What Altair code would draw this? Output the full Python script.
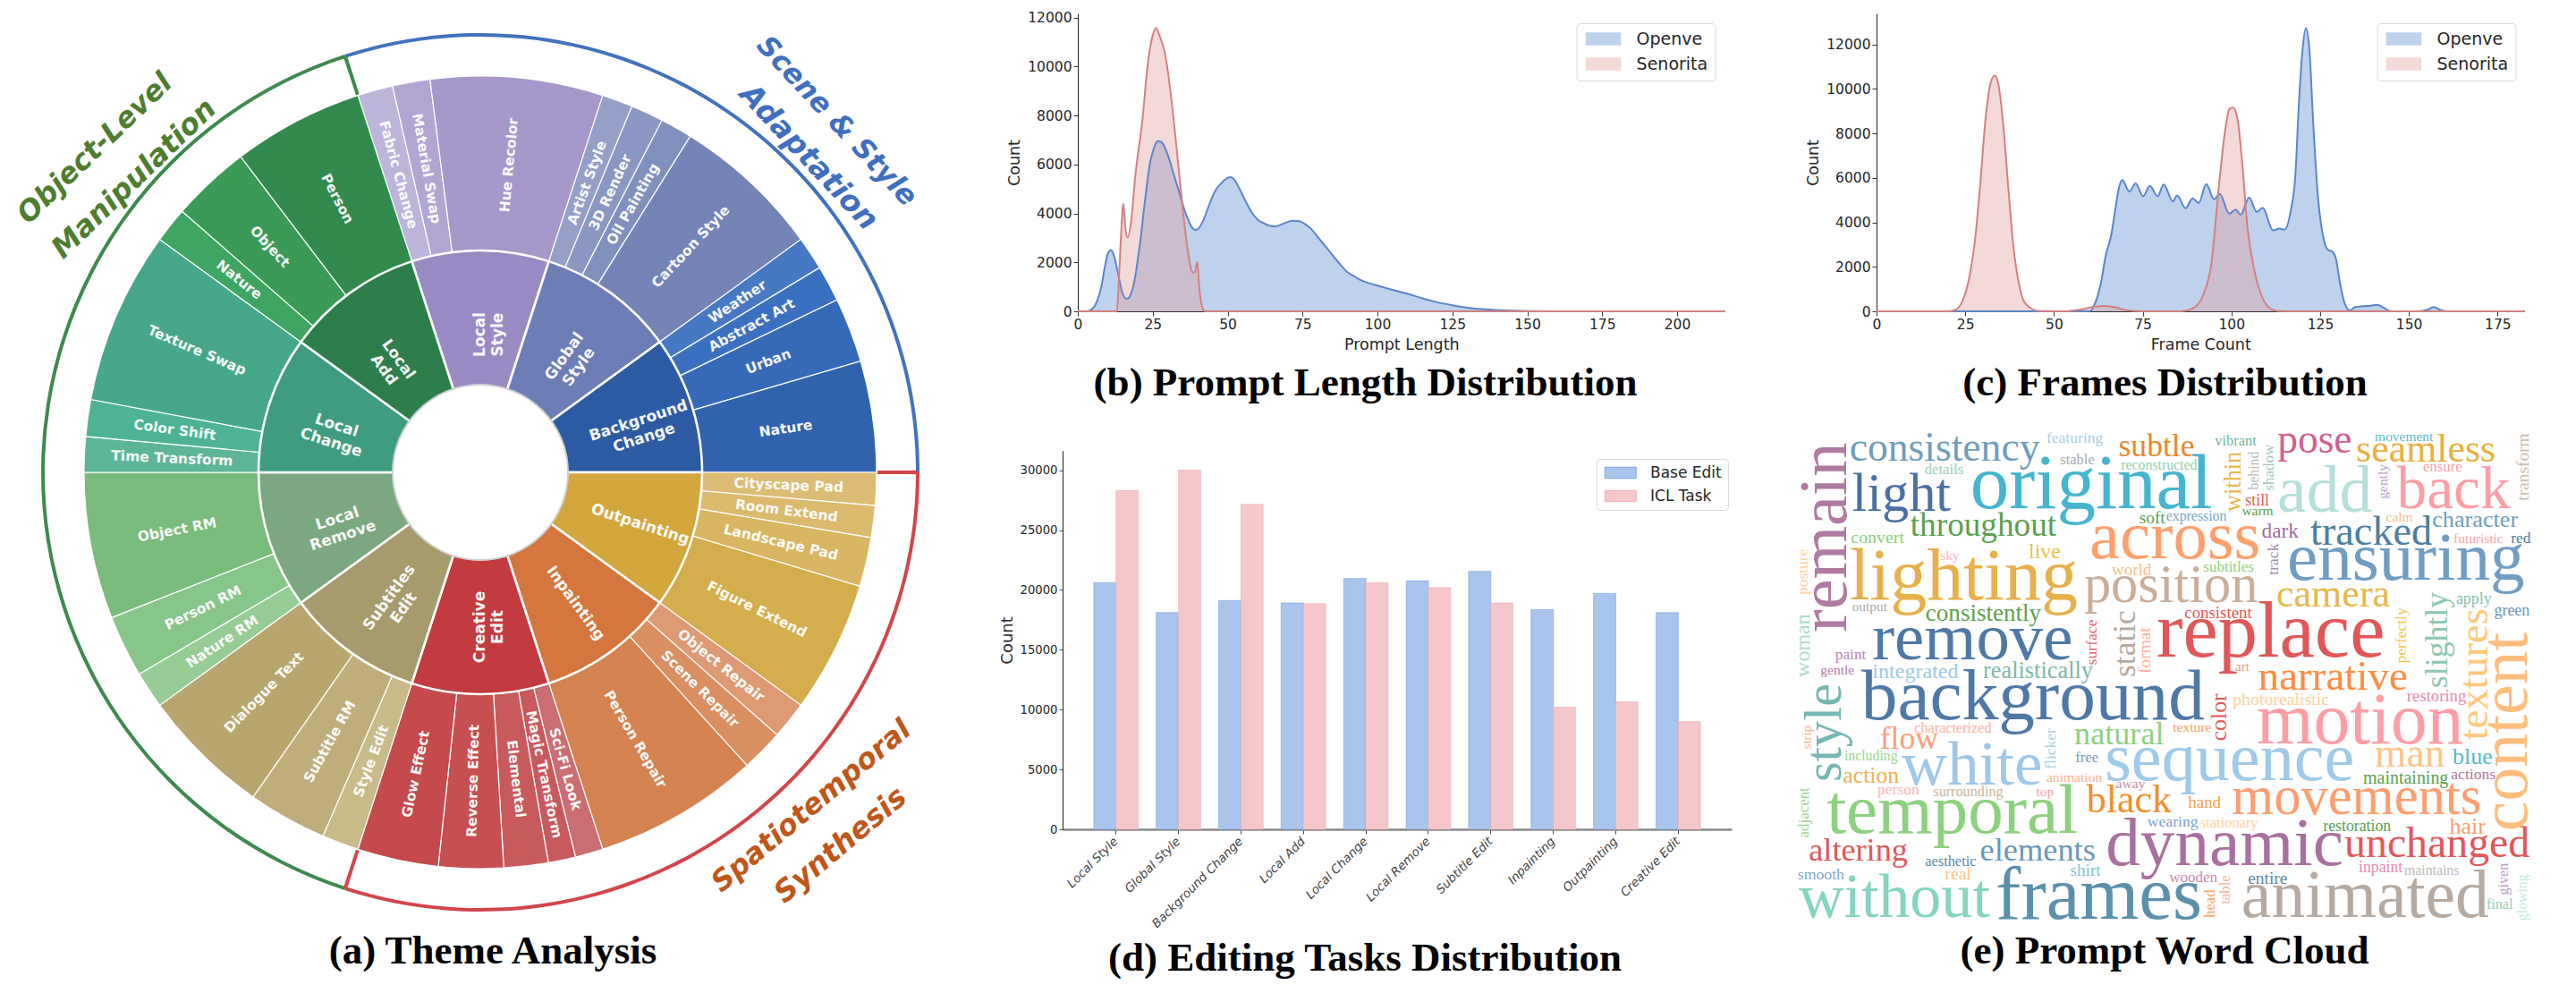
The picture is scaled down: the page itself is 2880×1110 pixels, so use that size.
import altair as alt
import pandas as pd

# ---------- (a) sunburst data ----------
inner_labels = ["Local\nStyle", "Global\nStyle", "Background\nChange", "Outpainting", "Inpainting",
                "Creative\nEdit", "Subtitles\nEdit", "Local\nRemove", "Local\nChange", "Local\nAdd"]
inner_colors = ["#9a8ac3", "#6d7db5", "#2c5ba3", "#d3a73d", "#d4763d",
                "#c23b3e", "#a79a6c", "#7ba880", "#3f9c80", "#2e7e4b"]
inner_span = [36] * 10
inner_r = [154, 160, 186, 188, 181, 173, 173, 168, 169, 156]

outer_labels = [
    ["Fabric Change", "Material Swap", "Hue Recolor"],
    ["Artist Style", "3D Render", "Oil Painting", "Cartoon Style"],
    ["Weather", "Abstract Art", "Urban", "Nature"],
    ["Cityscape Pad", "Room Extend", "Landscape Pad", "Figure Extend"],
    ["Object Repair", "Scene Repair", "Person Repair"],
    ["Sci-Fi Look", "Magic Transform", "Elemental", "Reverse Effect", "Glow Effect"],
    ["Style Edit", "Subtitle RM", "Dialogue Text"],
    ["Nature RM", "Person RM", "Object RM"],
    ["Time Transform", "Color Shift", "Texture Swap"],
    ["Nature", "Object", "Person"],
]
outer_spans = [
    [5.2, 5.5, 25.3], [4.5, 4.8, 4.7, 22.0], [4.9, 5.3, 9.5, 16.3], [4.8, 4.7, 7.2, 19.3],
    [5.5, 6.2, 24.3], [4.1, 4.0, 6.5, 9.5, 11.9], [5.4, 11.6, 19.0], [5.4, 9.1, 21.5],
    [5.2, 5.4, 25.4], [5.2, 11.6, 19.2],
]
outer_colors = [
    ["#bdb4da", "#b1a5d1", "#a698cb"], ["#959fc8", "#8997c2", "#8090bd", "#7584b7"],
    ["#4678c4", "#3b70c1", "#3669b7", "#3062ae"], ["#dcbc74", "#dbb96d", "#d8b560", "#d4ad4c"],
    ["#dd9a74", "#da8f63", "#d48250"], ["#ca6e72", "#c8595d", "#c95a5c", "#c64f4f", "#c44a4b"],
    ["#c9ba8a", "#bfae7c", "#b9a66f"], ["#97cb94", "#88c589", "#79bc7b"],
    ["#5cb597", "#4db394", "#47a78a"], ["#3fa563", "#3a9a56", "#338a4e"],
]
band_names = ["Scene & Style", "Spatiotemporal", "Object-Level"]
band_spans = [108, 108, 144]
band_colors = ["#4272bd", "#d2454a", "#3e8a4e"]

# ---------- (b) prompt length ----------
b_open_x = [0, 3, 4, 6, 8, 9, 10, 11, 12, 13, 14, 15, 16.4, 17, 18, 19, 20, 21, 22, 23, 24, 25, 26, 26.8, 28, 30, 32,
            34, 36, 37, 38, 39.2, 40, 41, 42, 44, 46, 48, 50, 51, 52, 54, 56, 58, 60, 62, 64, 66, 68, 70, 72, 74, 76,
            78, 80, 82, 84, 86, 88, 90, 92, 94, 96, 98, 100, 105, 110, 115, 120, 125, 130, 135, 140, 145, 150, 160, 216]
b_open_y = [0, 0, 30, 300, 1100, 1800, 2350, 2500, 2300, 1800, 1200, 700, 510, 550, 800, 1300, 2100, 3000, 4100, 5100,
            6000, 6500, 6850, 6950, 6900, 6400, 5600, 4800, 4000, 3700, 3450, 3330, 3350, 3500, 3750, 4400, 4950, 5250,
            5450, 5480, 5420, 5000, 4500, 4050, 3750, 3600, 3500, 3470, 3550, 3650, 3700, 3680, 3550, 3350, 3050, 2750,
            2450, 2150, 1850, 1600, 1450, 1300, 1200, 1120, 1050, 880, 720, 530, 370, 250, 150, 90, 50, 25, 10, 0, 0]
b_sen_x = [0, 13, 13.6, 14.3, 15.2, 15.8, 16.6, 18, 19.1, 21.6, 23.3, 25, 26.1, 27, 28.3, 29.1, 31.2, 33.3, 35, 36.7,
           38.4, 39.1, 39.9, 40.5, 41.9, 42.5, 216]
b_sen_y = [0, 0, 1000, 2800, 4400, 3500, 3020, 3900, 5420, 7860, 10050, 11270, 11580, 11350, 10900, 10530, 8700, 6270,
           4200, 2500, 1580, 1620, 2030, 1030, 60, 0, 0]

# ---------- (c) frame count ----------
c_open_x = [0, 60, 61.8, 63.2, 64.7, 66.1, 67.3, 68.3, 69.3, 70.5, 71.2, 73, 75.1, 77, 79.2, 80.9, 83.5, 84.7, 87.1,
            89, 90.8, 92.9, 95.1, 96.7, 99.4, 101.2, 102.6, 105, 107.1, 108.8, 111.7, 113.6, 114.9, 116.8, 118, 119,
            120, 121, 122, 123, 124.3, 125.8, 127.2, 128.4, 129.5, 130.6, 132, 133.4, 134.9, 137, 139.2, 141, 142.9,
            144.7, 146, 153, 155, 157, 159, 160.5, 182.6]
c_open_y = [0, 0, 455, 1260, 2600, 3400, 4600, 5550, 5900, 5550, 5380, 5750, 5170, 5640, 5170, 5700, 4940, 5210, 4630,
            5080, 4870, 5720, 5035, 5280, 4390, 4570, 4340, 5115, 4470, 4650, 3640, 3720, 3670, 4600, 6080, 9300,
            11700, 12740, 11700, 8620, 5280, 3400, 2760, 2690, 2330, 1260, 320, 50, 190, 230, 250, 290, 160,
            15, 0, 0, 60, 190, 60, 0, 0]
c_sen_x = [0, 20, 22, 24.2, 26.3, 27.8, 29.2, 30.7, 32.1, 33.3, 34.3, 35.8, 37.2, 38.6, 40.1, 41.5, 43.7, 45.9, 53,
           57.5, 61, 64, 66.9, 70.5, 75, 86, 89, 92, 94.4, 96.5, 98.3, 99.4, 100.4, 101.6, 103, 104.5, 106.7, 108.8,
           111, 113, 120, 182.6]
c_sen_y = [0, 0, 50, 455, 1660, 3270, 5680, 8620, 10230, 10600, 10230, 8220, 5410, 2870, 1260, 455, 120, 10, 0,
           80, 190, 240, 190, 50, 0, 0, 120, 720, 2200, 5680, 8220, 9090, 9160, 8760, 6750, 3800, 1660, 590,
           120, 15, 0, 0]

# ---------- (d) bars ----------
tasks = ["Local Style", "Global Style", "Background Change", "Local Add", "Local Change", "Local Remove",
         "Subtitle Edit", "Inpainting", "Outpainting", "Creative Edit"]
base_edit = [20600, 18100, 19100, 18900, 20950, 20750, 21550, 18350, 19700, 18100]
icl_task = [28300, 30000, 27150, 18850, 20600, 20200, 18900, 10200, 10650, 9000]

# ---------- (e) word cloud: word, start, end, baseline (read in a 1.762 / 2.45 zoomed crop), colour ----------
words_h = [
    ("consistency", 135, 510, 110, "#6f9dbd"), ("featuring", 523, 635, 62, "#a8cfe8"), ("subtle", 665, 815, 98, "#e8862e"),
    ("vibrant", 855, 937, 68, "#6fb5a0"), ("pose", 978, 1125, 88, "#d0608e"), ("seamless", 1133, 1408, 113, "#e8b040"),
    ("movement", 1170, 1285, 57, "#5bbccc"), ("stable", 550, 618, 120, "#aaaaaa"), ("details", 283, 360, 147, "#9fcfb0"),
    ("reconstructed", 670, 820, 135, "#8fd1b0"), ("original", 373, 850, 240, "#45b4cf"), ("light", 140, 335, 248, "#4a6fa5"),
    ("add", 978, 1165, 250, "#b5e0da"), ("back", 1213, 1437, 240, "#ff9da7"), ("ensure", 1265, 1342, 140, "#ff9da7"),
    ("still", 915, 962, 232, "#e15759"), ("warm", 908, 970, 260, "#59a14f"), ("soft", 706, 757, 282, "#59a14f"),
    ("expression", 759, 878, 274, "#76a5c5"), ("throughout", 255, 543, 315, "#59a14f"), ("calm", 1192, 1245, 278, "#f5c08a"),
    ("character", 1283, 1452, 292, "#6d9ec2"), ("across", 608, 945, 378, "#ff9f6b"), ("dark", 947, 1020, 322, "#a06ca0"),
    ("tracked", 1043, 1283, 340, "#4e7f9e"), ("futuristic", 1325, 1423, 335, "#ff9da7"), ("red", 1438, 1477, 335, "#4e79a7"),
    ("convert", 138, 243, 335, "#8ccf7e"), ("sky", 314, 352, 382, "#ffb3ba"), ("live", 488, 551, 377, "#e8c04a"),
    ("lighting", 135, 585, 490, "#e8b04a"), ("ensuring", 997, 1465, 435, "#6f9dc4"), ("world", 652, 730, 423, "#f5c08a"),
    ("subtitles", 832, 932, 414, "#8fcf7f"), ("position", 597, 940, 497, "#c9ae9a"), ("camera", 976, 1200, 510, "#e6b84a"),
    ("apply", 1330, 1400, 503, "#7fc4b0"), ("output", 140, 210, 523, "#aaaaaa"), ("consistently", 285, 513, 550, "#59a14f"),
    ("green", 1405, 1475, 533, "#6b97b8"), ("consistent", 795, 928, 542, "#e15759"), ("replace", 740, 1190, 648, "#e15759"),
    ("remove", 180, 575, 653, "#4e79a7"), ("paint", 107, 168, 653, "#b884b5"), ("gentle", 78, 145, 695, "#b07aa1"),
    ("integrated", 180, 350, 705, "#a0c9e8"), ("realistically", 398, 615, 705, "#7fb8a5"), ("art", 895, 923, 685, "#e0a080"),
    ("narrative", 940, 1235, 738, "#ff8c42"), ("background", 158, 835, 818, "#4e79a7"), ("photorealistic", 890, 1080, 780, "#ffcf9e"),
    ("restoring", 1233, 1350, 770, "#e58ab0"), ("motion", 937, 1345, 885, "#ff9da7"), ("characterized", 263, 415, 855, "#ffb0a0"),
    ("texture", 772, 848, 852, "#ff9d5c"), ("flow", 195, 310, 900, "#ff9d7a"), ("natural", 578, 755, 888, "#8fd07f"),
    ("including", 125, 230, 930, "#9ad68f"), ("free", 580, 626, 937, "#7a9cb5"), ("white", 238, 515, 997, "#9fc8e8"),
    ("sequence", 638, 1130, 985, "#9fcae8"), ("man", 1170, 1308, 948, "#ffc48a"), ("blue", 1323, 1402, 940, "#59b8cc"),
    ("action", 122, 233, 992, "#f0b050"), ("animation", 523, 633, 990, "#ffb090"), ("maintaining", 1147, 1315, 995, "#59a14f"),
    ("actions", 1320, 1408, 982, "#b07aa1"), ("away", 660, 718, 1008, "#c58cb0"), ("person", 190, 273, 1025, "#ffb3b8"),
    ("surrounding", 300, 438, 1030, "#c9b6a0"), ("top", 503, 538, 1030, "#ff9da7"), ("black", 602, 770, 1072, "#f28e2b"),
    ("hand", 802, 867, 1062, "#f0a050"), ("movements", 888, 1380, 1078, "#ff9d6e"), ("temporal", 90, 585, 1130, "#8cd17d"),
    ("wearing", 722, 822, 1112, "#7c9fd0"), ("stationary", 826, 940, 1115, "#ffcf9e"), ("restoration", 1068, 1202, 1124, "#59a14f"),
    ("hair", 1317, 1388, 1132, "#ff9d6e"), ("dynamic", 640, 1108, 1217, "#a8709e"), ("unchanged", 1110, 1475, 1195, "#e15759"),
    ("altering", 55, 250, 1205, "#e15759"), ("elements", 392, 620, 1205, "#6b97b5"), ("aesthetic", 284, 385, 1220, "#5f88a8"),
    ("inpaint", 1138, 1225, 1238, "#e58ab0"), ("maintains", 1228, 1336, 1245, "#bbbbbb"), ("shirt", 570, 630, 1247, "#7fc4d8"),
    ("smooth", 33, 125, 1258, "#7fa8c0"), ("real", 323, 375, 1258, "#ffc48a"), ("wooden", 765, 860, 1265, "#c58cb0"),
    ("entire", 920, 998, 1268, "#5f88a8"), ("without", 35, 412, 1360, "#85d4c0"), ("frames", 423, 830, 1365, "#5b90ab"),
    ("animated", 907, 1395, 1360, "#b5aaa2"), ("final", 1390, 1442, 1338, "#8fd1c0"),
]
words_v = [
    ("remain", 60, 580, 128, "#b07aa1"), ("transform", 35, 220, 1473, "#c9bdb0"), ("within", 85, 250, 905, "#e8b84a"),
    ("behind", 85, 190, 940, "#bbbbbb"), ("shadow", 65, 193, 970, "#9fc9b8"), ("gently", 120, 215, 1195, "#b99cc9"),
    ("posture", 352, 478, 52, "#ffcf9e"), ("track", 337, 423, 980, "#a889b8"), ("surface", 545, 670, 622, "#e85d75"),
    ("static", 520, 703, 697, "#b5aaa2"), ("format", 567, 693, 728, "#ffb09a"), ("woman", 530, 703, 57, "#a8dbd0"),
    ("perfectly", 513, 665, 1232, "#edc948"), ("slightly", 470, 733, 1312, "#8cc8b0"), ("textures", 515, 875, 1392, "#ffc87a"),
    ("content", 580, 1125, 1470, "#ffbe7d"), ("style", 720, 990, 118, "#76b7b2"), ("color", 748, 878, 877, "#e15759"),
    ("strip", 835, 900, 60, "#ffb08a"), ("flicker", 843, 955, 540, "#a8d0e8"), ("adjacent", 1005, 1143, 55, "#9ad68f"),
    ("table", 1245, 1325, 885, "#ffb0a0"), ("head", 1285, 1362, 855, "#ffa060"), ("given", 1212, 1300, 1433, "#b99cc9"),
    ("glowing", 1243, 1370, 1470, "#c5e8e0"),
]
TIMES = dict(a=.444, b=.5, c=.444, d=.5, e=.444, f=.333, g=.5, h=.5, i=.278, j=.278, k=.5, l=.278, m=.778, n=.5,
             o=.5, p=.5, q=.5, r=.333, s=.389, t=.278, u=.5, v=.5, w=.722, x=.5, y=.5, z=.444)

# ---------- page geometry (page coordinates, 8px margin) ----------
M = 8
CX, CY = 537 - M, 528 - M
D_X, B_X, E_X, C_X, END_X = 1188, 1204.4, 1936, 2096.5, 2821
B_W, D_W = 723.6, 748
TOP, BOTTOM = 15, 348        # b, c plot top / bottom on the page
D_TOP, D_BOTTOM = 503.8, 927
SERIF = "Liberation Serif"
SANS = "DejaVu Sans"
TICK = "#262626"


def caption(text, x, y, size=45):
    return alt.Chart(pd.DataFrame({"t": [text]})).mark_text(
        font=SERIF, fontWeight="bold", fontSize=size, color="black", align="center", baseline="alphabetic"
    ).encode(x=alt.value(x), y=alt.value(y - M), text="t:N")


# ---------- panel a ----------
THETA = alt.Scale(domain=[0, 360], range=[0, 6.283185307])
rows_in, rows_out = [], []
start = -18.0
for i, span in enumerate(inner_span):
    rows_in.append(dict(label=inner_labels[i], t0=start, t1=start + span, color=inner_colors[i], r=inner_r[i]))
    s = start
    for lab, sp, col in zip(outer_labels[i], outer_spans[i], outer_colors[i]):
        rows_out.append(dict(label=lab, t0=s, t1=s + sp, color=col, r=345))
        s += sp
    start += span


def text_angle(row):
    m = ((row["t0"] + row["t1"]) / 2) % 360
    return (m - 90) % 360 if m < 180 else (m - 270) % 360


for r in rows_in + rows_out:
    r["mid"] = (r["t0"] + r["t1"]) / 2
    r["ang"] = text_angle(r)
df_in, df_out = pd.DataFrame(rows_in), pd.DataFrame(rows_out)


def arcs(df, r0, r1, sw):
    return alt.Chart(df).mark_arc(radius=r1, radius2=r0, stroke="white", strokeWidth=sw).encode(
        x=alt.value(CX), y=alt.value(CY),
        theta=alt.Theta("t0:Q", scale=THETA, stack=None), theta2="t1:Q",
        color=alt.Color("color:N", scale=None))


def radial_text(df, size, lh):
    return alt.Chart(df).mark_text(font=SANS, fontWeight="bold", fontSize=size, color="white", lineBreak="\n",
                                   lineHeight=lh, align="center", baseline="middle", opacity=.95).encode(
        x=alt.value(CX), y=alt.value(CY),
        theta=alt.Theta("mid:Q", scale=THETA, stack=None),
        radius=alt.Radius("r:Q", scale=None),
        angle=alt.Angle("ang:Q", scale=None), text="label:N")


rows_band, rows_tick = [], []
s = -18.0
for n, sp, col in zip(band_names, band_spans, band_colors):
    rows_band.append(dict(t0=s, t1=s + sp, color=col))
    tick_col = band_colors[2] if n == "Scene & Style" else band_colors[1]
    rows_tick.append(dict(t0=s - .25, t1=s + .25, color=tick_col))
    s += sp


def plain_arcs(df, r0, r1):
    return alt.Chart(df).mark_arc(radius=r1, radius2=r0).encode(
        x=alt.value(CX), y=alt.value(CY),
        theta=alt.Theta("t0:Q", scale=THETA, stack=None), theta2="t1:Q",
        color=alt.Color("color:N", scale=None))


band_text = pd.DataFrame([
    dict(t="Scene & Style", x=935, y=136, a=47, c="#3f6fbf", fs=31.5),
    dict(t="Adaptation", x=904, y=176, a=47, c="#3f6fbf", fs=33.5),
    dict(t="Object-Level", x=106, y=166, a=316, c="#4f7d2f", fs=32),
    dict(t="Manipulation", x=150, y=200, a=316, c="#4f7d2f", fs=32.5),
    dict(t="Spatiotemporal", x=907, y=901, a=320, c="#c0561a", fs=32),
    dict(t="Synthesis", x=940, y=945, a=320, c="#c0561a", fs=33),
])
band_text["x"] -= M
band_text["y"] -= M
band_lab = alt.Chart(band_text).mark_text(font=SANS, fontWeight="bold", fontStyle="italic",
                                          align="center", baseline="middle").encode(
    x=alt.X("x:Q", scale=None, axis=None), y=alt.Y("y:Q", scale=None, axis=None),
    size=alt.Size("fs:Q", scale=None),
    angle=alt.Angle("a:Q", scale=None), text="t:N", color=alt.Color("c:N", scale=None))
hole = plain_arcs(pd.DataFrame([dict(t0=0, t1=360, color="#cfcfcf")]), 97, 99)

panel_a = alt.layer(
    arcs(df_out, 248, 443, 1.2), arcs(df_in, 97, 248, 2.6), hole,
    plain_arcs(pd.DataFrame(rows_band), 487, 491), plain_arcs(pd.DataFrame(rows_tick), 444, 489),
    radial_text(df_out, 15.5, 18), radial_text(df_in, 17, 20), band_lab,
    caption("(a) Theme Analysis", 551 - M, 1077),
).properties(width=D_X - M, height=100)


# ---------- panels b, c ----------
DIST_FILL = alt.Scale(domain=["Openve", "Senorita"], range=["#558ad0", "#e39a9c"])
DIST_LINE = alt.Scale(domain=["Openve", "Senorita"], range=["#5a85c9", "#d48080"])


def dist(ox, oy, sx, sy, xmax, ymax, x0, plot_w, cell_w, xvals, xtitle, leg_x, cap, cap_x):
    df = pd.concat([pd.DataFrame(dict(x=ox, y=oy, s="Openve")), pd.DataFrame(dict(x=sx, y=sy, s="Senorita"))])
    X = alt.X("x:Q", scale=alt.Scale(domain=[0, xmax], nice=False, range=[0, plot_w]),
              axis=alt.Axis(values=xvals, title=xtitle, grid=False, titleFontSize=17.5, labelFontSize=15.5, titleFont=SANS,
                            labelFont=SANS, titleFontWeight="normal", domainColor="#333", tickColor="#333",
                            labelColor=TICK, titleColor=TICK, titlePadding=6, tickSize=5, labelFlush=False,
                            labelOverlap=False, format="d"))
    Y = alt.Y("y:Q", stack=None, scale=alt.Scale(domain=[0, ymax], nice=False, range=[BOTTOM - M, TOP - M]),
              axis=alt.Axis(values=list(range(0, 12001, 2000)), title="Count", grid=False, titleFontSize=17.5,
                            labelFontSize=15.5, labelFont=SANS, titleFont=SANS, titleFontWeight="normal",
                            domainColor="#222", tickColor="#333", labelColor=TICK, titleColor=TICK,
                            titlePadding=5, tickSize=5, labelFlush=False, labelOverlap=False, format="d"))
    area = alt.Chart(df).mark_area(fillOpacity=.38, interpolate="monotone").encode(
        x=X, y=Y,
        fill=alt.Fill("s:N", scale=DIST_FILL, legend=alt.Legend(
            title=None, orient="none", legendX=leg_x - x0, legendY=26 - M, labelFontSize=19, labelFont=SANS,
            labelColor=TICK, symbolType="M-1,-1L4.45,-1L4.45,1L-1,1Z", symbolSize=210, symbolOpacity=.38,
            symbolStrokeWidth=0, labelOffset=40, rowPadding=8, padding=8, fillColor="white", strokeColor="#d9d9d9",
            cornerRadius=4)))
    line = alt.Chart(df).mark_line(strokeWidth=2, interpolate="monotone").encode(
        x=X, y=Y, stroke=alt.Stroke("s:N", scale=DIST_LINE, legend=None))
    return alt.layer(area, line, caption(cap, cap_x - x0, 441.7)).properties(width=cell_w, height=BOTTOM - M)


panel_b = dist(b_open_x, b_open_y, b_sen_x, b_sen_y, 216, 12170, B_X, B_W, E_X - B_X, list(range(0, 201, 25)),
               "Prompt Length", 1762, "(b) Prompt Length Distribution", 1526)
panel_c = dist(c_open_x, c_open_y, c_sen_x, c_sen_y, 182.6, 13390, C_X, END_X - C_X, END_X - C_X,
               list(range(0, 176, 25)), "Frame Count", 2656, "(c) Frames Distribution", 2419)

# ---------- panel d ----------
df_d = pd.concat([pd.DataFrame(dict(cat=tasks, v=base_edit, s="Base Edit")),
                  pd.DataFrame(dict(cat=tasks, v=icl_task, s="ICL Task"))])
bars = alt.Chart(df_d).mark_bar(strokeWidth=1.2, strokeOpacity=.55).encode(
    x=alt.X("cat:N", sort=tasks, scale=alt.Scale(paddingInner=.29, paddingOuter=.5, range=[0, D_W]),
            axis=alt.Axis(title=None, labelAngle=-45, labelAlign="right", labelBaseline="middle", labelFontStyle="italic",
                          labelFontSize=13.5, labelFont=SANS, labelColor="#444", domainColor="#888", domainWidth=2.5,
                          tickColor="#444", tickSize=5, labelPadding=6, labelOverlap=False)),
    xOffset=alt.XOffset("s:N", sort=["Base Edit", "ICL Task"]),
    y=alt.Y("v:Q", scale=alt.Scale(domain=[0, 31630], nice=False, range=[D_BOTTOM - M, D_TOP - M]),
            axis=alt.Axis(values=list(range(0, 30001, 5000)), title="Count", grid=False, titleFontSize=18,
                          titleFont=SANS, titleFontWeight="normal", labelFontSize=13.2, labelFont=SANS, labelColor=TICK,
                          titleColor=TICK, domainColor="#222", tickColor="#555", tickSize=4, titlePadding=5,
                          labelFlush=False, labelOverlap=False, format="d")),
    fill=alt.Fill("s:N", scale=alt.Scale(domain=["Base Edit", "ICL Task"], range=["#a9c5ee", "#f5c7ca"]),
                  legend=alt.Legend(title=None, orient="none", legendX=1785 - D_X, legendY=513 - M, labelFontSize=17,
                                    labelFont=SANS, labelColor=TICK, symbolType="M-1,-1L4.6,-1L4.6,1L-1,1Z",
                                    symbolSize=156, symbolStrokeWidth=1, symbolStrokeColor="#9db8e2", labelOffset=36,
                                    rowPadding=8, padding=7, fillColor="white", strokeColor="#d9d9d9", cornerRadius=4)),
    stroke=alt.Stroke("s:N", scale=alt.Scale(domain=["Base Edit", "ICL Task"], range=["#7ea2dc", "#ecaeb2"]), legend=None),
)
panel_d = alt.layer(bars, caption("(d) Editing Tasks Distribution", 1526 - D_X, 1085)).properties(
    width=B_X - D_X, height=D_BOTTOM - M)

# ---------- panel e ----------
ZX, ZY = 1568 / 890, 2.45
rows_w = []
for w, a0, a1, b, c in words_h:
    em = sum(TIMES[ch] for ch in w)
    rows_w.append(dict(w=w, px=1990 + (a0 + a1) / 2 / ZX - E_X, py=470 + b / ZY - M, fs=(a1 - a0) / ZX / em, a=0, c=c))
for w, a0, a1, b, c in words_v:
    em = sum(TIMES[ch] for ch in w)
    rows_w.append(dict(w=w, px=1990 + b / ZX - E_X, py=470 + (a0 + a1) / 2 / ZY - M, fs=(a1 - a0) / ZY / em, a=270, c=c))
cloud = alt.Chart(pd.DataFrame(rows_w)).mark_text(font=SERIF, align="center", baseline="alphabetic").encode(
    x=alt.X("px:Q", scale=None, axis=None), y=alt.Y("py:Q", scale=None, axis=None),
    size=alt.Size("fs:Q", scale=None), angle=alt.Angle("a:Q", scale=None),
    color=alt.Color("c:N", scale=None), text="w:N")
panel_e = alt.layer(cloud, caption("(e) Prompt Word Cloud", 2419 - E_X, 1077)).properties(width=C_X - E_X, height=100)

# ---------- layout: one row of cells that all start at the page's top; each plot draws inside its own scale ranges ----------
chart = alt.hconcat(panel_a, panel_d, panel_b, panel_e, panel_c, spacing=0, bounds="flush"
                    ).resolve_scale(fill="independent", stroke="independent"
                                    ).properties(padding=0).configure_view(stroke=None)
chart.save("out.html", embed_options={"renderer": "svg", "actions": False})
